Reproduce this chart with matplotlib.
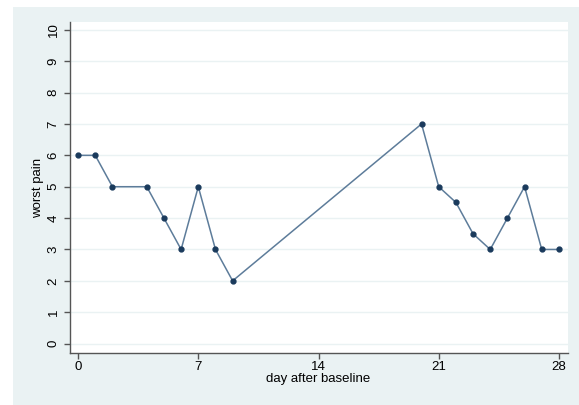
import matplotlib
matplotlib.use("Agg")
import matplotlib.pyplot as plt
from matplotlib.patches import Rectangle

# 数据
days = [0, 1, 2, 4, 5, 6, 7, 8, 9, 20, 21, 22, 23, 24, 25, 26, 27, 28]
pain = [6, 6, 5, 5, 4, 3, 5, 3, 2, 7, 5, 4.5, 3.5, 3, 4, 5, 3, 3]
xticks = [0, 7, 14, 21, 28]
yticks = list(range(0, 11))

plt.rcParams['font.family'] = ['Liberation Sans', 'DejaVu Sans']

bg = '#eaf2f3'
fig = plt.figure(figsize=(5.79, 4.05), dpi=100)
fig.patch.set_facecolor('white')
fig.patches.append(Rectangle((13 / 579, 0), 1 - 13 / 579, 1 - 7 / 405,
                             transform=fig.transFigure, facecolor=bg,
                             edgecolor='none', zorder=-10))

ax = fig.add_axes([69.5 / 579, 1 - 353 / 405, (567.5 - 69.5) / 579, (353 - 22) / 405])
ax.set_facecolor('white')

for y in yticks:
    ax.axhline(y, color=bg, lw=1, zorder=1)

ax.plot(days, pain, color='#5d7c9a', lw=1.1, zorder=2)
ax.plot(days, pain, 'o', color='#1a3a5c', ms=3.5, zorder=3)

ax.set_xlim(-0.5, 28.5)
ax.set_ylim(-0.3, 10.25)
ax.set_xticks(xticks)
ax.set_yticks(yticks)
ax.tick_params(axis='y', labelrotation=90, labelsize=9.5, color='#555555',
               length=4, width=1, pad=3)
ax.tick_params(axis='x', labelsize=9.5, color='#555555', length=4, width=1, pad=2)
for lbl in ax.get_yticklabels():
    lbl.set_va('center')

for s in ['top', 'right']:
    ax.spines[s].set_visible(False)
for s in ['left', 'bottom']:
    ax.spines[s].set_color('#555555')
    ax.spines[s].set_linewidth(1)

ax.set_xlabel('day after baseline', fontsize=9.5, labelpad=0)
ax.set_ylabel('worst pain', fontsize=9.5, labelpad=3)

fig.savefig('out.png', dpi=100, facecolor=fig.get_facecolor())
